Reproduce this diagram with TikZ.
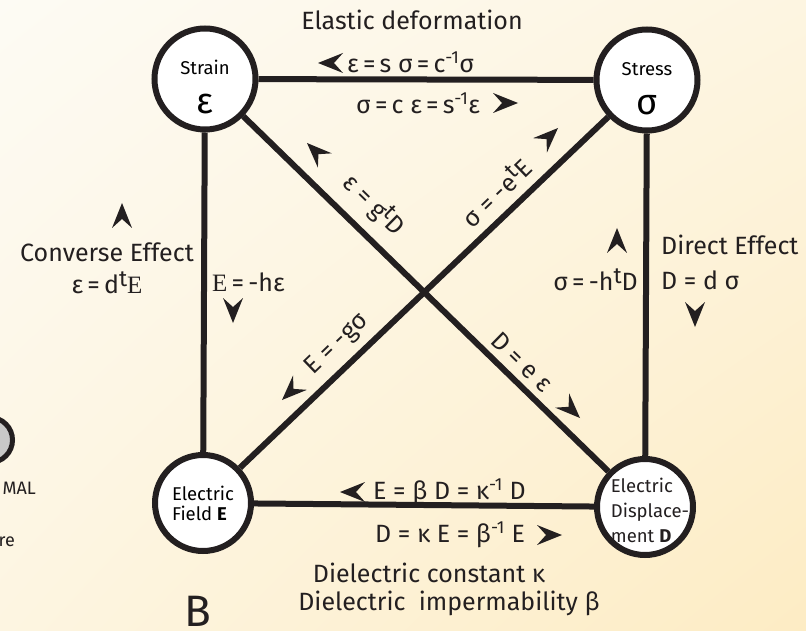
\documentclass[tikz,border=0pt]{standalone}
\usepackage{fontspec}
\setmainfont{Fira Sans}
\newfontfamily\serifE{Liberation Serif}
\usetikzlibrary{positioning, shadings}
\definecolor{Paper_Light}{RGB}{253,251,244}
\definecolor{Paper_Mid}{RGB}{253,245,225}
\definecolor{Paper_Warm}{RGB}{253,236,196}
\definecolor{Ink}{HTML}{231F20}
\definecolor{Node_Gray}{RGB}{200,200,200}
\newcommand{\upt}{\raisebox{0.3em}{\scalebox{0.9}{t}}}
\newcommand{\eq}{\,=\,}

\begin{document}
\begin{tikzpicture}[x=1pt, y=-1pt,
    state/.style={circle, draw=Ink, fill=white, line width=6pt, minimum size=96pt, inner sep=0pt, align=center, font=\fontsize{18.5}{20}\selectfont},
    bigstate/.style={state, minimum size=101pt},
    link/.style={draw=Ink, line width=6pt},
    lbl/.style={font=\fontsize{25}{28}\selectfont, text=Ink, inner sep=1pt},
    chev/.pic={\fill[Ink] (0,0) -- (-25,10) -- (-16,0) -- (-25,-10) -- cycle;}
]

% Paper
\useasboundingbox (0,0) rectangle (806,631);
\shade[upper left=Paper_Light, lower left=Paper_Mid, upper right=Paper_Mid, lower right=Paper_Warm] (0,0) rectangle (806,631);

% Cut-off panel at the left edge
\begin{scope}
\clip (0,0) rectangle (806,631);
\draw[Ink, line width=5pt, fill=Node_Gray] (-10,440) circle (22.5);
\end{scope}
\node[lbl, font=\fontsize{18}{20}\selectfont, anchor=east] (leftMal) at (37,488) {MAL};
\node[lbl, font=\fontsize{18}{20}\selectfont, anchor=east] (leftRe) at (16,542) {re};

% States
\node[bigstate] (strain) at (205,79) {\rule{0pt}{30pt}Strain\\[19pt]{\fontsize{36}{30}\selectfont ε}};
\node[bigstate] (stress) at (647,80) {\rule{0pt}{30pt}Stress\\[19pt]{\fontsize{36}{30}\selectfont σ}};
\node[state, align=left] (efield) at (203,503) {Electric\\Field \textbf{E}};
\node[state] (disp) at (645,507) {};

% Links
\draw[link] (strain) -- (stress);
\draw[link] (strain) -- (efield);
\draw[link] (stress) -- (disp);
\draw[link] (efield) -- (disp);
\draw[link] (strain) -- (disp);
\draw[link] (stress) -- (efield);
\node[align=left, font=\fontsize{18.5}{25}\selectfont, text=Ink, inner sep=0pt] (dispLabel) at (650,510) {Electric\\Displace-\\ment \textbf{D}};

% Elastic
\node[lbl] (elastic) at (412,20) {Elastic deformation};
\node[lbl, anchor=west] (strainEq) at (346,62) {ε\eq s σ\eq c\textsuperscript{-1}σ};
\node[lbl, anchor=west] (stressEq) at (355,103) {σ\eq c ε\eq s\textsuperscript{-1}ε};

% Converse / direct
\node[lbl] (converse) at (107,252) {Converse Effect};
\node[lbl] (converseEq) at (107,283) {ε\eq d\upt{\serifE E}};
\node[lbl, anchor=west] (hEq) at (211,282) {{\serifE E}\eq -hε};
\node[lbl, anchor=east] (htEq) at (639,280) {σ\eq -h\upt D};
\node[lbl, anchor=west] (direct) at (660,245) {Direct Effect};
\node[lbl, anchor=west] (dEq) at (660,280) {D = d σ};

% Diagonals
\node[lbl, rotate=-44.4] (gEq) at (374,205) {ε = g\upt D};
\node[lbl, rotate=44] (etEq) at (496,192) {σ = -e\upt E};
\node[lbl, rotate=44] (gsEq) at (337,345) {E = -gσ};
\node[lbl, rotate=-44.4] (eeEq) at (522,362) {D = e ε};

% Dielectric
\node[lbl, anchor=west] (betaEq) at (372,492) {E = β D = κ\textsuperscript{-1} D};
\node[lbl, anchor=west] (kappaEq) at (374,535) {D = κ E = β\textsuperscript{-1} E};
\node[lbl] (kappa) at (429,573) {Dielectric constant κ};
\node[lbl] (beta) at (449,603) {Dielectric\ \ impermability β};
\node[lbl, font=\fontsize{44}{44}\selectfont, anchor=base] (panel) at (198,626) {B};

% Arrow heads
\pic[rotate=180] at (318,63) {chev};
\pic at (518,103) {chev};
\pic[rotate=90] at (122,203) {chev};
\pic[rotate=-90] at (233,323) {chev};
\pic[rotate=90] at (617,228) {chev};
\pic[rotate=-90] at (695,327) {chev};
\pic[rotate=135.6] at (307,143) {chev};
\pic[rotate=44] at (558,128) {chev};
\pic[rotate=224] at (282,400) {chev};
\pic[rotate=-44.4] at (580,418) {chev};
\pic[rotate=180] at (340,492) {chev};
\pic at (562,535) {chev};

\end{tikzpicture}
\end{document}
